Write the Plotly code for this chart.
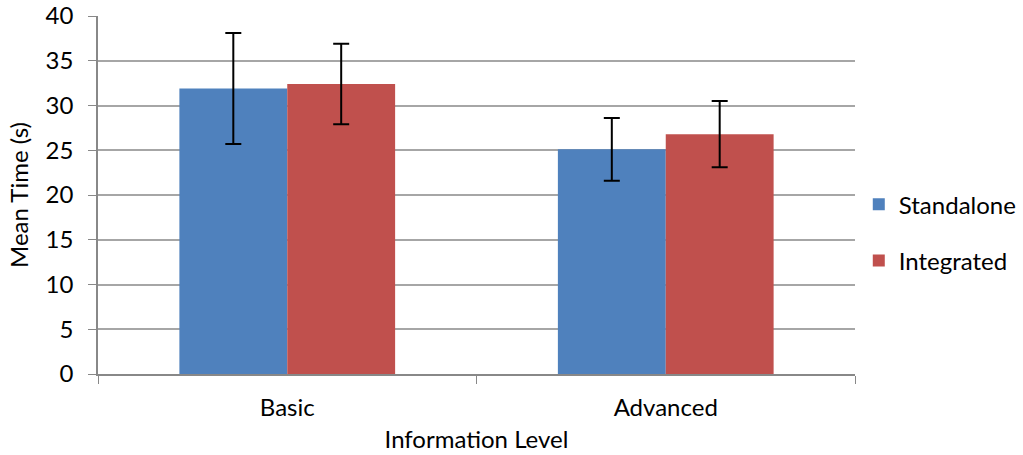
import plotly.graph_objects as go

categories = ["Basic", "Advanced"]
standalone = [31.9, 25.1]
standalone_err = [6.2, 3.5]
integrated = [32.4, 26.8]
integrated_err = [4.5, 3.7]

FONT = "Lato"
FS = 24
fig = go.Figure()
fig.add_trace(go.Bar(
    x=categories, y=standalone, name="Standalone", legendgroup="a",
    marker=dict(color="#4F81BD", line=dict(width=0)),
    error_y=dict(type="data", array=standalone_err, color="black", thickness=2, width=8),
))
fig.add_trace(go.Bar(
    x=categories, y=integrated, name="Integrated", legendgroup="b",
    marker=dict(color="#C0504D", line=dict(width=0)),
    error_y=dict(type="data", array=integrated_err, color="black", thickness=2, width=8),
))

fig.update_layout(
    width=1023, height=455,
    margin=dict(l=98, r=168, t=16, b=81, autoexpand=False),
    paper_bgcolor="white", plot_bgcolor="white",
    barmode="group", bargap=0.43, bargroupgap=0,
    font=dict(family=FONT, size=FS, color="black"),
    legend=dict(x=1.005, xanchor="left", y=0.395, yanchor="middle",
                traceorder="grouped", tracegroupgap=22,
                font=dict(family=FONT, size=FS)),
    xaxis=dict(
        title=dict(text="Information Level", standoff=12, font=dict(size=FS)),
        showline=True, linecolor="#888888", linewidth=1.5,
        ticks="outside", tickson="boundaries", ticklen=8, tickcolor="#888888",
        ticklabelstandoff=11,
        showgrid=False, tickfont=dict(size=FS), automargin=False,
    ),
    yaxis=dict(
        title=dict(text="Mean Time (s)", standoff=10, font=dict(size=FS)),
        range=[0, 40], dtick=5,
        showline=True, linecolor="#888888", linewidth=1.5,
        ticks="outside", ticklen=8, tickcolor="#888888", ticklabelstandoff=10,
        showgrid=True, gridcolor="#A6A6A6", gridwidth=1.5,
        zeroline=False, tickfont=dict(size=FS), automargin=False,
    ),
)

fig.write_html("out.html", config={"displayModeBar": False},
               post_script="document.body.style.margin='0';")
